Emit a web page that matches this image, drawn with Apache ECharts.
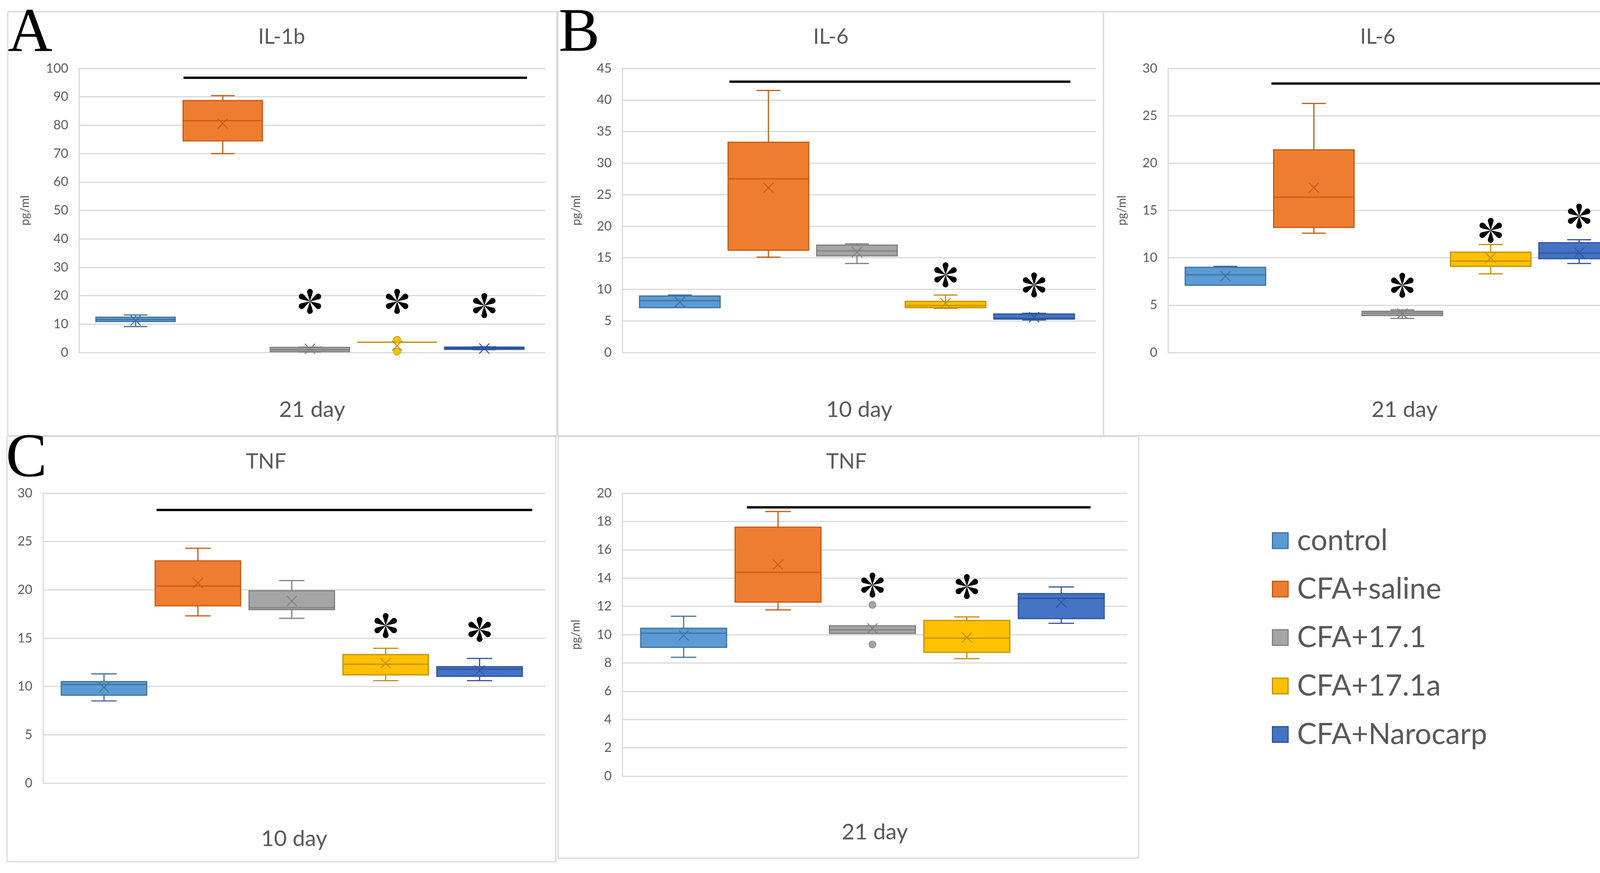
<!DOCTYPE html>
<html>
<head>
<meta charset="utf-8">
<script src="https://cdn.jsdelivr.net/npm/echarts@6/dist/echarts.min.js"></script>
<style>
html,body{margin:0;padding:0;background:#ffffff;}
#chart{width:4266px;height:2234px;}
</style>
</head>
<body>
<div id="chart"></div>
<script>
// ---------------- DATA ----------------
const groups = ['control', 'CFA+saline', 'CFA+17.1', 'CFA+17.1a', 'CFA+Narocarp'];
const groupIndex = [0, 1, 2, 3, 4];

const panelTitles = ['IL-1b', 'IL-6', 'IL-6', 'TNF', 'TNF'];
const panelDays = ['21 day', '10 day', '21 day', '10 day', '21 day'];
const panelLetters = ['A', 'B', '', 'C', ''];
const yUnits = ['pg/ml', 'pg/ml', 'pg/ml', '', 'pg/ml'];
const yMaxes = [100, 45, 30, 30, 20];
const yIntervals = [10, 5, 5, 5, 2];

// [min, Q1, median, Q3, max] per group
const il1b21Box = [
  [9.1, 10.9, 11.6, 12.4, 13.2],
  [70.0, 74.5, 81.6, 88.7, 90.4],
  [0.2, 0.3, 1.0, 1.8, 1.9],
  [3.6, 3.6, 3.6, 3.6, 3.6],
  [1.0, 1.1, 1.5, 1.9, 2.0]
];
const il1b21Mean = [11.3, 80.6, 1.3, 2.4, 1.4];
const il1b21Outliers = [[3, 4.5], [3, 0.3]];
const il1b21Stars = [[2, 18.0], [3, 18.0], [4, 16.5]];
const il1b21Bar = [0.55, 4.49, 96.7];

const il6d10Box = [
  [7.1, 7.1, 8.2, 8.95, 9.1],
  [15.1, 16.2, 27.5, 33.3, 41.5],
  [14.1, 15.3, 16.1, 17.0, 17.2],
  [7.0, 7.1, 7.45, 8.1, 9.1],
  [5.15, 5.3, 5.4, 6.1, 6.2]
];
const il6d10Mean = [8.0, 26.1, 15.9, 7.8, 5.6];
const il6d10Outliers = [];
const il6d10Stars = [[3, 12.3], [4, 10.7]];
const il6d10Bar = [0.56, 4.41, 42.9];

const il6d21Box = [
  [7.1, 7.1, 8.2, 9.0, 9.1],
  [12.6, 13.2, 16.4, 21.4, 26.3],
  [3.6, 3.9, 4.15, 4.35, 4.5],
  [8.3, 9.1, 9.65, 10.6, 11.4],
  [9.4, 9.9, 10.5, 11.6, 11.9]
];
const il6d21Mean = [8.05, 17.4, 4.1, 10.0, 10.55];
const il6d21Outliers = [];
const il6d21Stars = [[2, 7.1], [3, 12.9], [4, 14.4]];
const il6d21Bar = [0.52, 4.40, 28.4];

const tnf10Box = [
  [8.5, 9.1, 10.2, 10.5, 11.3],
  [17.3, 18.35, 20.4, 23.0, 24.3],
  [17.05, 17.95, 18.15, 19.9, 20.95],
  [10.6, 11.2, 12.3, 13.3, 13.95],
  [10.6, 11.05, 11.8, 12.05, 12.9]
];
const tnf10Mean = [9.9, 20.7, 18.85, 12.4, 11.65];
const tnf10Outliers = [];
const tnf10Stars = [[3, 16.3], [4, 15.9]];
const tnf10Bar = [0.56, 4.56, 28.26];

const tnf21Box = [
  [8.4, 9.1, 10.1, 10.45, 11.3],
  [11.75, 12.3, 14.4, 17.6, 18.7],
  [10.08, 10.08, 10.34, 10.62, 10.62],
  [8.3, 8.75, 9.75, 11.0, 11.25],
  [10.8, 11.13, 12.57, 12.9, 13.37]
];
const tnf21Mean = [9.95, 14.95, 10.44, 9.8, 12.28];
const tnf21Outliers = [[2, 12.1], [2, 9.3]];
const tnf21Stars = [[2, 13.5], [3, 13.4]];
const tnf21Bar = [0.67, 4.31, 19.0];

const panelBoxes = [il1b21Box, il6d10Box, il6d21Box, tnf10Box, tnf21Box];
const panelMeans = [il1b21Mean, il6d10Mean, il6d21Mean, tnf10Mean, tnf21Mean];
const panelOutliers = [il1b21Outliers, il6d10Outliers, il6d21Outliers, tnf10Outliers, tnf21Outliers];
const panelStars = [il1b21Stars, il6d10Stars, il6d21Stars, tnf10Stars, tnf21Stars];
const panelBars = [il1b21Bar, il6d10Bar, il6d21Bar, tnf10Bar, tnf21Bar];

// ---------------- STYLE / LAYOUT ----------------
const FILLS = ['#5B9BD5', '#ED7D31', '#A5A5A5', '#FFC000', '#4472C4'];
const EDGES = ['#41719C', '#C55A11', '#7F7F7F', '#BF9000', '#2F5597'];
const TEXT = '#595959';
const GRIDLINE = '#D9D9D9';
const FONT = 'Lato';

const GRIDS = [
  { left: 202, top: 175, width: 1194, height: 727 },
  { left: 1593, top: 175, width: 1213, height: 727 },
  { left: 2990, top: 175, width: 1211, height: 727 },
  { left: 110, top: 1262, width: 1286, height: 742 },
  { left: 1593, top: 1262, width: 1293, height: 724 }
];
const X_NAME_GAP = [118, 118, 118, 114, 115];
const Y_NAME_GAP = [123, 103, 103, 100, 104];
const FRAMES = [
  [20, 30, 1406, 1085],
  [1428, 30, 1397, 1085],
  [2825, 30, 1406, 1085],
  [18, 1117, 1405, 1088],
  [1429, 1117, 1486, 1079]
];
const TITLE_POS = [[721, 95], [2127, 95], [3527, 95], [681, 1182], [2167, 1182]];
const LETTER_POS = [[20, 88], [1430, 88], null, [15, 1176], null];

const BOX_W = 0.91;
const CAP_W = 0.27;

function fmt(v) { return (Math.round(v * 100) / 100).toString(); }
function asteriskPath() {
  const R = 37, r = 11, beta = Math.acos(r / R);
  let d = '';
  for (let k = 0; k < 6; k++) {
    const th = -Math.PI / 2 + k * Math.PI / 3;
    const cx = 50 + R * Math.cos(th), cy = 50 + R * Math.sin(th);
    d += 'M50 50';
    const a0 = th + Math.PI + beta, a1 = th + 3 * Math.PI - beta;
    for (let i = 0; i <= 20; i++) {
      const a = a0 + (a1 - a0) * i / 20;
      d += 'L' + fmt(cx + r * Math.cos(a)) + ' ' + fmt(cy + r * Math.sin(a));
    }
    d += 'Z';
  }
  return 'path://' + d;
}
const STAR = asteriskPath();

function makeBoxRenderer(fill, edge) {
  return function (params, api) {
    const x = api.value(0);
    const lo = api.value(1), q1 = api.value(2), md = api.value(3), q3 = api.value(4), hi = api.value(5), mean = api.value(6);
    const cx = api.coord([x, md])[0];
    const y = v => api.coord([x, v])[1];
    const bw = api.size([BOX_W, 0])[0];
    const cw = api.size([CAP_W, 0])[0];
    const ln = (x1, y1, x2, y2, w) => ({ type: 'line', shape: { x1, y1, x2, y2 }, style: { stroke: edge, lineWidth: w } });
    const ch = [];
    if (hi > q3) {
      ch.push(ln(cx, y(q3), cx, y(hi), 3));
      ch.push(ln(cx - cw / 2, y(hi), cx + cw / 2, y(hi), 3));
    }
    if (lo < q1) {
      ch.push(ln(cx, y(q1), cx, y(lo), 3));
      ch.push(ln(cx - cw / 2, y(lo), cx + cw / 2, y(lo), 3));
    }
    ch.push({ type: 'rect', shape: { x: cx - bw / 2, y: y(q3), width: bw, height: y(q1) - y(q3) },
      style: { fill: fill, stroke: edge, lineWidth: 3 } });
    ch.push(ln(cx - bw / 2, y(md), cx + bw / 2, y(md), 3));
    const ym = y(mean), s = 13;
    ch.push(ln(cx - s, ym - s, cx + s, ym + s, 2.5));
    ch.push(ln(cx - s, ym + s, cx + s, ym - s, 2.5));
    return { type: 'group', children: ch };
  };
}

// ---------------- OPTION ----------------
const grid = [], xAxis = [], yAxis = [], series = [], graphic = [];

for (let p = 0; p < 5; p++) {
  grid.push(Object.assign({ containLabel: false, outerBoundsMode: 'none' }, GRIDS[p]));
  xAxis.push({
    type: 'value', gridIndex: p, min: -0.65, max: 4.7,
    axisLine: { show: false, onZero: false }, axisTick: { show: false }, axisLabel: { show: false }, splitLine: { show: false },
    name: panelDays[p], nameLocation: 'middle', nameGap: X_NAME_GAP[p],
    nameTextStyle: { color: TEXT, fontSize: 57, fontFamily: FONT }
  });
  yAxis.push({
    type: 'value', gridIndex: p, min: 0, max: yMaxes[p], interval: yIntervals[p],
    position: 'left',
    axisLine: { show: true, onZero: false, lineStyle: { color: GRIDLINE, width: 3 } },
    axisTick: { show: false },
    axisLabel: { color: TEXT, fontSize: 33, fontFamily: FONT, margin: 27 },
    splitLine: { show: true, lineStyle: { color: GRIDLINE, width: 3 } },
    name: yUnits[p], nameLocation: 'middle', nameGap: Y_NAME_GAP[p],
    nameTextStyle: { color: TEXT, fontSize: 30, fontFamily: FONT }
  });

  // boxes
  for (let g = 0; g < groups.length; g++) {
    const b = panelBoxes[p][g];
    series.push({
      type: 'custom', name: groups[g], xAxisIndex: p, yAxisIndex: p,
      itemStyle: { color: FILLS[g], borderColor: EDGES[g], borderWidth: 3 },
      encode: { x: 0, y: [1, 2, 3, 4, 5, 6] },
      renderItem: makeBoxRenderer(FILLS[g], EDGES[g]),
      data: [[groupIndex[g], b[0], b[1], b[2], b[3], b[4], panelMeans[p][g]]],
      silent: true, z: 3
    });
    const outs = panelOutliers[p].filter(o => o[0] === groupIndex[g]);
    if (outs.length) {
      series.push({
        type: 'scatter', name: groups[g], xAxisIndex: p, yAxisIndex: p,
        symbol: 'circle', symbolSize: 18,
        itemStyle: { color: FILLS[g], borderColor: EDGES[g], borderWidth: 1.5, opacity: 1 },
        data: outs, silent: true, z: 4
      });
    }
  }
  // significance bar
  const bar = panelBars[p];
  series.push({
    type: 'line', name: 'significance', xAxisIndex: p, yAxisIndex: p,
    data: [[bar[0], bar[2]], [bar[1], bar[2]]],
    symbol: 'none', lineStyle: { color: '#000000', width: 6 }, silent: true, z: 5
  });
  // asterisks
  series.push({
    type: 'scatter', name: 'p<0.05', xAxisIndex: p, yAxisIndex: p,
    data: panelStars[p], symbol: STAR, symbolSize: 64, symbolKeepAspect: true,
    itemStyle: { color: '#000000', opacity: 1 }, silent: true, z: 5
  });

  // frame
  const f = FRAMES[p];
  graphic.push({ type: 'rect', shape: { x: f[0], y: f[1], width: f[2], height: f[3] },
    style: { fill: 'none', stroke: GRIDLINE, lineWidth: 3 }, silent: true, z: -10 });
  // title
  graphic.push({ type: 'text', x: TITLE_POS[p][0], y: TITLE_POS[p][1],
    style: { text: panelTitles[p], fill: TEXT, font: '54px ' + FONT, align: 'center', verticalAlign: 'middle' }, silent: true });
  // panel letter
  if (panelLetters[p]) {
    graphic.push({ type: 'text', x: LETTER_POS[p][0], y: LETTER_POS[p][1],
      style: { text: panelLetters[p], fill: '#000000', font: '158px "Liberation Serif"', align: 'left', verticalAlign: 'middle' }, silent: true });
  }
}

const option = {
  animation: false,
  backgroundColor: '#ffffff',
  grid, xAxis, yAxis, series, graphic,
  legend: {
    orient: 'vertical', left: 3251, top: 1341,
    itemWidth: 40, itemHeight: 40, itemGap: 49,
    icon: 'rect', selectedMode: false,
    textStyle: { color: TEXT, fontSize: 75, fontFamily: FONT, lineHeight: 72, padding: [0, 0, 0, 18] },
    data: groups.map((n, i) => ({ name: n, itemStyle: { color: FILLS[i], borderColor: EDGES[i], borderWidth: 3 } }))
  }
};

const chart = echarts.init(document.getElementById('chart'), null, { renderer: 'canvas' });
chart.setOption(option);
</script>
</body>
</html>
